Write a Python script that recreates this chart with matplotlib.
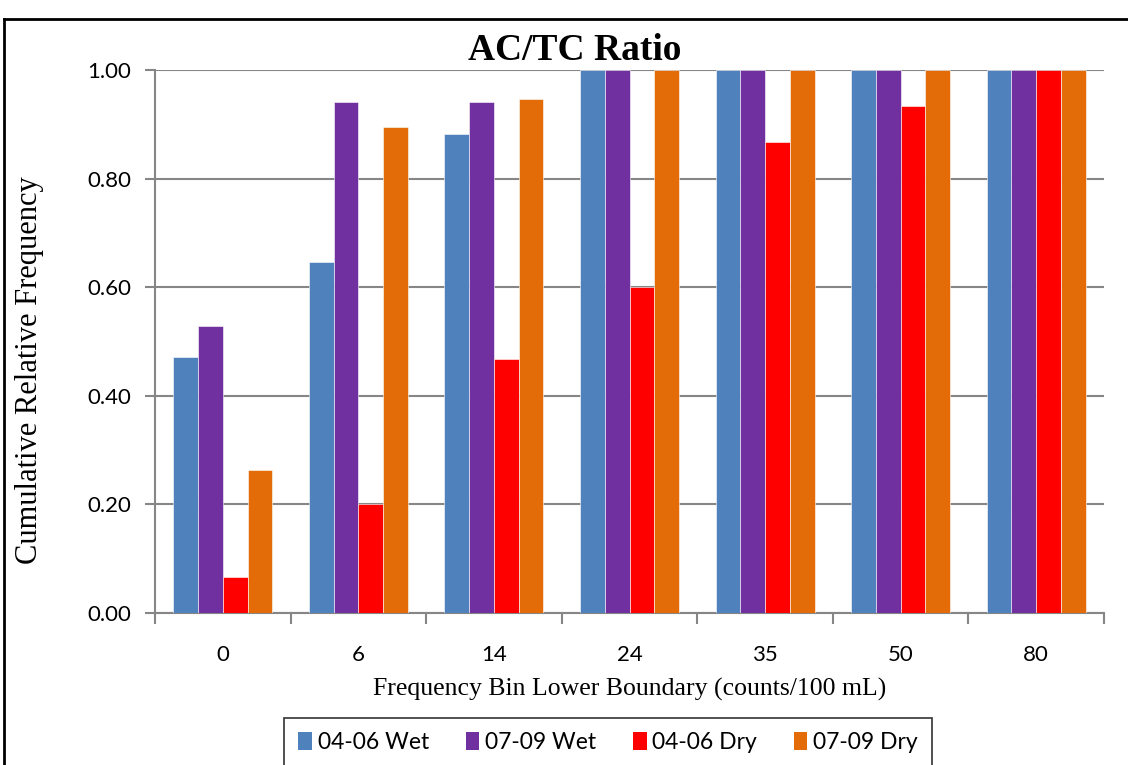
import matplotlib.pyplot as plt
import numpy as np
from matplotlib.lines import Line2D
from matplotlib.patches import Patch

bins = ["0", "6", "14", "24", "35", "50", "80"]
wet_04_06 = [0.471, 0.647, 0.882, 1.00, 1.00, 1.00, 1.00]
wet_07_09 = [0.529, 0.941, 0.941, 1.00, 1.00, 1.00, 1.00]
dry_04_06 = [0.067, 0.200, 0.467, 0.600, 0.867, 0.933, 1.00]
dry_07_09 = [0.263, 0.895, 0.947, 1.00, 1.00, 1.00, 1.00]

series = [("04-06 Wet", wet_04_06, "#4F81BD"),
          ("07-09 Wet", wet_07_09, "#7030A0"),
          ("04-06 Dry", dry_04_06, "#FF0000"),
          ("07-09 Dry", dry_07_09, "#E36C09")]

serif = "Liberation Serif"
sans = "Lato"

fig = plt.figure(figsize=(11.28, 7.65), dpi=100)
W, H = 1128, 765
ax = fig.add_axes([155 / W, 1 - 613 / H, (1104 - 155) / W, (613 - 70) / H])

x = np.arange(len(bins))
bw = 0.1825
for i, (name, vals, col) in enumerate(series):
    ax.bar(x + (i - 1.5) * bw, vals, bw, color=col, label=name,
           edgecolor="white", linewidth=0.4, zorder=3)

ax.set_xlim(-0.5, len(bins) - 0.5)
ax.set_ylim(0, 1.0)
ax.set_yticks(np.arange(0, 1.01, 0.2))
ax.set_yticklabels([f"{v:.2f}" for v in np.arange(0, 1.01, 0.2)],
                   fontfamily=sans, fontsize=16)
ax.yaxis.grid(True, color="#868686", linewidth=1.5, zorder=0)
ax.set_axisbelow(True)

# category labels centred, tick marks on the boundaries
ax.set_xticks(x)
ax.set_xticklabels(bins, fontfamily=sans, fontsize=16)
ax.set_xticks(np.arange(-0.5, len(bins)), minor=True)
ax.tick_params(axis="x", which="major", length=0, pad=23)
ax.tick_params(axis="x", which="minor", length=8, width=1.5, color="#868686")
ax.tick_params(axis="y", length=7, width=1.5, color="#868686", pad=10)

for s in ["top", "right"]:
    ax.spines[s].set_visible(False)
for s in ["left", "bottom"]:
    ax.spines[s].set_color("#868686")
    ax.spines[s].set_linewidth(1.5)

ax.set_ylabel("Cumulative Relative Frequency", fontfamily=serif, fontsize=22,
              va="center")
ax.yaxis.set_label_coords((29 - 155) / (1104 - 155), (613 - 370) / (613 - 70))
ax.set_xlabel("Frequency Bin Lower Boundary (counts/100 mL)", fontfamily=serif,
              fontsize=18.5, va="center")
ax.xaxis.set_label_coords(0.5, -(689 - 613) / (613 - 70))
fig.text(575 / W, 1 - 50 / H, "AC/TC Ratio", fontfamily=serif, fontsize=27,
         fontweight="bold", ha="center", va="center")

# outer chart frame
fig.add_artist(Line2D([4 / W, 4 / W], [0, 1 - 19 / H], color="black",
                      linewidth=2, transform=fig.transFigure))
fig.add_artist(Line2D([4 / W, 1], [1 - 19 / H, 1 - 19 / H], color="black",
                      linewidth=2, transform=fig.transFigure))

handles = [Patch(facecolor=c, label=n) for n, v, c in series]
leg = fig.legend(handles=handles, loc="upper center", ncol=4,
                 bbox_to_anchor=(608 / W, 1 - 718 / H),
                 prop={"family": sans, "size": 16.5}, frameon=True,
                 fancybox=False, edgecolor="black", borderpad=0.6,
                 handlelength=0.6, handleheight=0.8, handletextpad=0.25,
                 columnspacing=1.6, borderaxespad=0)
leg.get_frame().set_linewidth(1.2)

fig.savefig("out.png", dpi=100)
